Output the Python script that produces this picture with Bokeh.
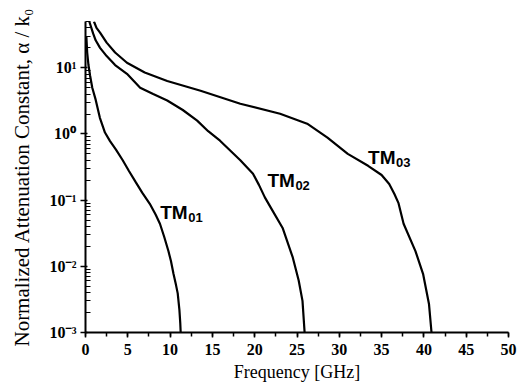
from bokeh.plotting import figure
from bokeh.models import SingleIntervalTicker, FixedTicker, CustomJSTickFormatter
from bokeh.core.properties import value
from bokeh.embed import file_html
from bokeh.resources import INLINE

# ---- data ----
tm01_f = [0.1, 0.2, 0.35, 0.55, 0.8, 1.2, 1.7, 2.3, 2.9, 3.6, 4.4, 5.1, 5.9, 6.7, 7.6, 8.3, 8.8,
          9.3, 9.8, 10.1, 10.4, 10.7, 10.9, 11.1, 11.2, 11.25]
tm01_v = [30, 17, 11, 7.5, 5.0, 3.3, 1.75, 1.05, 0.78, 0.58, 0.40, 0.28, 0.19, 0.13, 0.088, 0.06,
          0.044, 0.028, 0.017, 0.012, 0.0077, 0.0052, 0.0039, 0.0022, 0.0014, 0.001]

tm02_f = [0.45, 0.9, 1.2, 1.72, 2.5, 3.5, 4.9, 6.46, 8.0, 9.66, 11.5, 13.2, 14.5, 15.9, 18.3,
          19.8, 20.5, 21.2, 21.9, 23.3, 24.5, 25.2, 25.65, 25.9]
tm02_v = [50, 33, 26, 20, 15, 11, 8.1, 5.0, 4.0, 3.2, 2.3, 1.59, 1.1, 0.79, 0.40,
          0.25, 0.17, 0.11, 0.077, 0.038, 0.0136, 0.0061, 0.003, 0.001]

tm03_f = [1.0, 1.3, 1.72, 2.5, 3.5, 4.9, 7.0, 9.66, 13.6, 18.3, 23.0, 26.2, 28.6, 31.0, 33.4,
          35.0, 35.9, 36.5, 37.0, 37.6, 39.0, 39.9, 40.6, 40.9]
tm03_v = [50, 40, 34, 24, 17, 11.9, 8.5, 6.3, 4.5, 2.86, 2.02, 1.43, 0.88, 0.50, 0.33,
          0.24, 0.175, 0.125, 0.09, 0.044, 0.017, 0.0077, 0.0027, 0.001]

mode_names = ["TM", "TM", "TM"]
mode_subs = ["01", "02", "03"]
label_f = [8.83, 21.5, 33.4]
label_v = [0.065, 0.197, 0.44]

x_ticks_interval = 5
y_major = [0.001, 0.01, 0.1, 1, 10]

# ---- figure ----
p = figure(width=532, height=388, x_range=(0, 50), y_range=(0.001, 50),
           y_axis_type="log", output_backend="svg", toolbar_location=None,
           min_border_left=85, min_border_right=24, min_border_top=21, min_border_bottom=56)
p.grid.visible = False
p.outline_line_color = None
p.background_fill_color = "white"
p.border_fill_color = "white"

for fx, vy in [(tm01_f, tm01_v), (tm02_f, tm02_v), (tm03_f, tm03_v)]:
    p.line(fx, vy, line_color="black", line_width=2.2)

p.text(x=label_f, y=label_v, text=mode_names, text_font=value("Liberation Sans"),
       text_font_size="19px", text_font_style="bold", text_baseline="alphabetic",
       text_align="left", text_color="black")
p.text(x=label_f, y=label_v, text=mode_subs, text_font=value("Liberation Sans"),
       text_font_size="13px", text_font_style="bold", text_baseline="alphabetic",
       text_align="left", text_color="black", x_offset=28, y_offset=5)

serif = "serif"

# x axis
xa = p.xaxis[0]
xa.ticker = SingleIntervalTicker(interval=x_ticks_interval, num_minor_ticks=2)
xa.axis_label = "Frequency [GHz]"
xa.axis_label_text_font = "Liberation Serif"
xa.axis_label_text_font_style = "normal"
xa.axis_label_text_font_size = "18px"
xa.axis_label_text_color = "black"
xa.axis_label_standoff = 4
xa.major_label_text_font = serif
xa.major_label_text_font_style = "bold"
xa.major_label_text_font_size = "16px"
xa.major_label_text_color = "black"
xa.major_label_standoff = 6
xa.axis_line_width = 2
xa.axis_line_color = "black"
xa.major_tick_line_color = "black"
xa.minor_tick_line_color = "black"
xa.major_tick_line_width = 1.5
xa.minor_tick_line_width = 1.5
xa.major_tick_out = 5
xa.major_tick_in = 0
xa.minor_tick_out = 4
xa.minor_tick_in = 0

# y axis
ya = p.yaxis[0]
minor = [m * 10.0 ** e for e in range(-3, 2) for m in range(2, 10) if m * 10.0 ** e <= 50]
ya.ticker = FixedTicker(ticks=y_major, minor_ticks=minor)
ya.formatter = CustomJSTickFormatter(code="""
const sup = {"-":"\u207b","0":"\u2070","1":"\u00b9","2":"\u00b2","3":"\u00b3"};
const e = Math.round(Math.log10(tick));
return "10" + String(e).split("").map(c => sup[c]).join("");
""")
ya.major_label_text_font = serif
ya.major_label_text_font_style = "bold"
ya.major_label_text_font_size = "16px"
ya.major_label_text_color = "black"
ya.major_label_standoff = 4
ya.axis_line_width = 2
ya.axis_line_color = "black"
ya.major_tick_line_color = "black"
ya.minor_tick_line_color = "black"
ya.major_tick_line_width = 1.5
ya.minor_tick_line_width = 1.2
ya.major_tick_out = 5
ya.major_tick_in = 2
ya.minor_tick_out = 0
ya.minor_tick_in = 5
ya.axis_label = "Normalized Attenuation Constant, \u03b1 / k\u2080"
ya.axis_label_text_font = "Liberation Serif"
ya.axis_label_text_font_style = "normal"
ya.axis_label_text_font_size = "21px"
ya.axis_label_text_color = "black"
ya.axis_label_standoff = 12

open("out.html", "w").write(file_html(p, INLINE))
